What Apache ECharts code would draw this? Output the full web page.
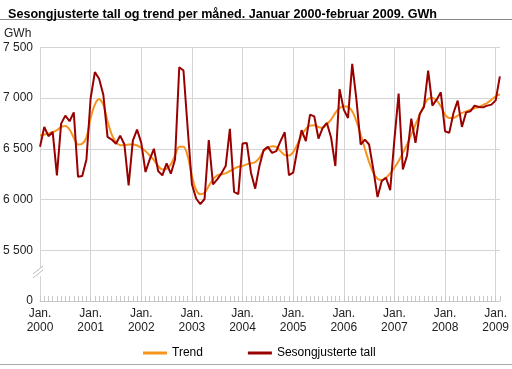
<!DOCTYPE html>
<html>
<head>
<meta charset="utf-8">
<script src="https://cdn.jsdelivr.net/npm/echarts@6/dist/echarts.min.js"></script>
<style>
html,body{margin:0;padding:0;background:#fff;}
#c{width:512px;height:369px;}
</style>
</head>
<body>
<div id="c"></div>
<script>
const title = 'Sesongjusterte tall og trend per måned. Januar 2000-februar 2009. GWh';
const unit = 'GWh';
const seriesNames = ['Trend', 'Sesongjusterte tall'];
const startYear = 2000;
const monthCount = 110; // Jan 2000 - Feb 2009
const yTicks = [0, 5500, 6000, 6500, 7000, 7500];

const trend = [6630,6640,6650,6663,6683,6715,6725,6690,6608,6542,6549,6610,
6804,6935,6990,6935,6771,6640,6565,6535,6535,6542,6542,6532,
6510,6477,6434,6389,6330,6297,6303,6346,6434,6519,6519,6428,
6231,6094,6052,6068,6133,6199,6238,6248,6258,6281,6303,6323,
6330,6346,6356,6369,6411,6477,6510,6526,6519,6477,6438,6434,
6467,6542,6630,6696,6728,6732,6715,6706,6745,6787,6853,6902,
6918,6912,6869,6771,6640,6500,6369,6264,6205,6192,6215,6258,
6313,6379,6460,6542,6640,6738,6836,6925,6993,7000,6977,6918,
6836,6804,6804,6827,6853,6869,6886,6899,6912,6931,6951,6984,
7016,7039];

const sesong = [6520,6715,6624,6666,6238,6748,6827,6771,6859,6225,6232,6395,
7000,7255,7190,7033,6617,6591,6549,6630,6542,6140,6581,6689,
6558,6271,6395,6500,6281,6238,6356,6254,6395,7304,7271,6700,
6150,6010,5955,6005,6585,6150,6199,6258,6330,6696,6075,6052,
6552,6558,6264,6107,6330,6487,6519,6460,6477,6575,6663,6241,
6264,6493,6683,6575,6837,6820,6601,6706,6755,6608,6330,7088,
6886,6804,7337,6984,6542,6591,6542,6297,6025,6183,6215,6091,
6591,7043,6297,6434,6797,6558,6843,6912,7271,6925,6984,7056,
6673,6657,6853,6974,6715,6859,6869,6925,6912,6908,6925,6935,
6977,7213];

const categories = [];
for (let i = 0; i < monthCount; i++) {
  const y = startYear + Math.floor(i / 12);
  const m = (i % 12) + 1;
  categories.push(y + '-' + (m < 10 ? '0' + m : m));
}

const FONT = '"Liberation Sans", Arial, sans-serif';
const chart = echarts.init(document.getElementById('c'), null, {renderer: 'canvas'});
const isJan = (idx) => idx % 12 === 0;

function fmtY(v) {
  if (v === 5000) return '0';
  const s = String(v);
  return s.length > 3 ? s.slice(0, s.length - 3) + ' ' + s.slice(-3) : s;
}

chart.setOption({
  animation: false,
  backgroundColor: '#fff',
  title: {
    text: title,
    left: 3, top: 3,
    textStyle: {fontFamily: FONT, fontSize: 12.6, fontWeight: 'bold', color: '#000'}
  },
  legend: {
    data: seriesNames,
    left: 138, top: 342,
    itemWidth: 24, itemHeight: 3, itemGap: 45,
    icon: 'rect',
    textStyle: {fontFamily: FONT, fontSize: 12, color: '#000'}
  },
  grid: {left: 39.5, right: 11.8, top: 47.3, bottom: 68, containLabel: false},
  xAxis: {
    type: 'category',
    data: categories,
    boundaryGap: false,
    axisLine: {show: true, lineStyle: {color: '#c8c8c8', width: 1}},
    axisTick: {show: true, inside: true, interval: 0, length: 5, lineStyle: {color: '#c8c8c8'}},
    splitLine: {show: true, interval: isJan, lineStyle: {color: '#d4d4d4', width: 1}},
    axisLabel: {
      interval: isJan,
      margin: 6,
      fontFamily: FONT, fontSize: 12, color: '#222', lineHeight: 14,
      formatter: (v) => 'Jan.\n' + v.slice(0, 4)
    }
  },
  yAxis: {
    type: 'value',
    min: 5000, max: 7500, interval: 500,
    axisLine: {show: true, lineStyle: {color: '#d4d4d4'}},
    axisTick: {show: false},
    splitLine: {show: true, lineStyle: {color: '#d4d4d4', width: 1}},
    axisLabel: {margin: 7, fontFamily: FONT, fontSize: 12, color: '#222', formatter: fmtY}
  },
  graphic: [
    {type: 'text', left: 4, top: 28, style: {text: unit, font: '12px ' + FONT, fill: '#222'}},
    {type: 'line', shape: {x1: 0, y1: 19.5, x2: 512, y2: 19.5}, style: {stroke: '#888', lineWidth: 1}},
    {type: 'line', shape: {x1: 0, y1: 364.5, x2: 512, y2: 364.5}, style: {stroke: '#aaa', lineWidth: 1}},
    {type: 'rect', shape: {x: 36, y: 268, width: 8, height: 8}, style: {fill: '#fff'}, z: 100},
    {type: 'line', shape: {x1: 33, y1: 274, x2: 43, y2: 266}, style: {stroke: '#bbb', lineWidth: 1}, z: 101},
    {type: 'line', shape: {x1: 33, y1: 278, x2: 43, y2: 270}, style: {stroke: '#bbb', lineWidth: 1}, z: 101}
  ],
  series: [
    {name: seriesNames[0], type: 'line', data: trend, symbol: 'none', smooth: 0.3,
     lineStyle: {color: '#f7941d', width: 2}, itemStyle: {color: '#f7941d'}},
    {name: seriesNames[1], type: 'line', data: sesong, symbol: 'none',
     lineStyle: {color: '#990000', width: 2}, itemStyle: {color: '#990000'}}
  ]
});
</script>
</body>
</html>
